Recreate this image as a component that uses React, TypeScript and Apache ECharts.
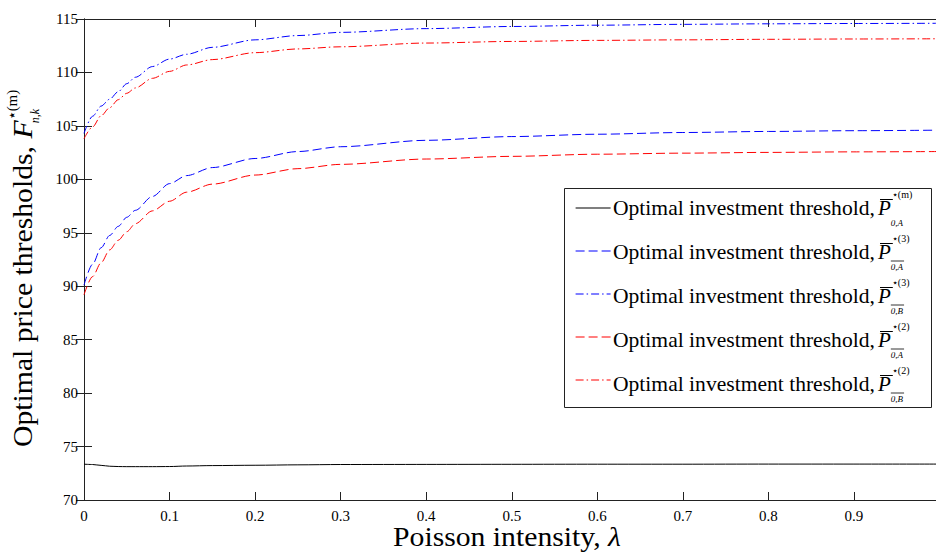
import React, { useEffect, useRef } from "react";
import * as echarts from "echarts";

const lambda = [0, 0.01, 0.02, 0.03, 0.04, 0.05, 0.06, 0.08, 0.1, 0.12, 0.15, 0.2, 0.25, 0.3, 0.4, 0.5, 0.6, 0.7, 0.8, 0.9, 1.0];
const invM = [73.35, 73.32, 73.24, 73.16, 73.13, 73.12, 73.12, 73.12, 73.13, 73.18, 73.22, 73.25, 73.29, 73.32, 73.33, 73.34, 73.35, 73.35, 73.36, 73.36, 73.36];
const blueA3 = [90.1, 92.05, 93.6, 94.75, 95.6, 96.45, 97.1, 98.4, 99.6, 100.35, 101.1, 101.95, 102.6, 103.05, 103.65, 104.0, 104.22, 104.38, 104.48, 104.55, 104.6];
const blueB3 = [104.3, 105.9, 106.85, 107.5, 108.2, 108.95, 109.55, 110.55, 111.25, 111.7, 112.35, 113.05, 113.45, 113.75, 114.1, 114.3, 114.42, 114.5, 114.55, 114.58, 114.6];
const redA2 = [89.2, 90.9, 92.2, 93.4, 94.3, 95.1, 95.85, 97.05, 97.95, 98.8, 99.55, 100.4, 101.0, 101.4, 101.9, 102.15, 102.35, 102.45, 102.52, 102.57, 102.6];
const redB2 = [103.8, 104.9, 105.95, 106.7, 107.45, 108.05, 108.55, 109.45, 110.1, 110.7, 111.2, 111.85, 112.2, 112.4, 112.75, 112.9, 113.0, 113.05, 113.1, 113.13, 113.15];

const seriesNames = ["P0A_m", "P0A_3", "P0B_3", "P0A_2", "P0B_2"];
const legendMain = "Optimal investment threshold,";
const legendSup = ["⋆(m)", "⋆(3)", "⋆(3)", "⋆(2)", "⋆(2)"];
const legendSub = ["0,A", "0,A", "0,B", "0,A", "0,B"];
const legendSubBar = [false, true, true, true, true];

const xTitle = "Poisson intensity, ";
const xTitleVar = "λ";
const yTitle = "Optimal price thresholds, ";
const yTitleVar = "F";
const yTitleSup = "⋆(m)";
const yTitleSub = "n,k";

const FF = '"Liberation Serif", "DejaVu Serif", serif';

const seriesDefs = [
  { data: invM, color: "#000000", dash: "solid" as any },
  { data: blueA3, color: "#0000ff", dash: [9, 4] },
  { data: blueB3, color: "#0000ff", dash: [8, 3, 1.5, 3] },
  { data: redA2, color: "#ff0000", dash: [9, 4] },
  { data: redB2, color: "#ff0000", dash: [8, 3, 1.5, 3] },
];

let measureCtx: CanvasRenderingContext2D | null = null;
function tw(text: string, font: string) {
  if (!measureCtx) measureCtx = document.createElement("canvas").getContext("2d");
  measureCtx!.font = font;
  return measureCtx!.measureText(text).width;
}

function txt(text: string, x: number, baseline: number, size: number, italic = false, sx = 1) {
  const font = `${italic ? "italic " : ""}${size}px ${FF}`;
  return {
    type: "text",
    x,
    y: baseline - 0.34 * size,
    scaleX: sx,
    z: 100,
    style: {
      text,
      font,
      fill: "#000",
      align: "left",
      verticalAlign: "middle",
      textAlign: "left",
      textVerticalAlign: "middle",
    },
  };
}

function hline(x1: number, x2: number, y: number, w = 1) {
  return {
    type: "line",
    z: 100,
    shape: { x1, y1: y, x2, y2: y },
    style: { stroke: "#000", lineWidth: w },
  };
}

export default function App() {
  const ref = useRef<HTMLDivElement>(null);
  useEffect(() => {
    if (!ref.current) return;
    const chart = echarts.init(ref.current, undefined, { renderer: "svg" });

    const graphics: any[] = [];
    graphics.push({
      type: "rect",
      z: 10,
      shape: { x: 564.5, y: 188.5, width: 367, height: 219 },
      style: { fill: "#fff", stroke: "#222", lineWidth: 1 },
    });
    const LS = 21;
    const mainW = tw(legendMain, `${LS}px ${FF}`);
    const lsx = 262 / mainW;
    const pW = tw("P", `italic ${LS}px ${FF}`);
    seriesDefs.forEach((s, i) => {
      const base = 215 + 44 * i;
      graphics.push(txt(legendMain, 613, base, LS, false, lsx));
      const xP = 613 + 262 + 3;
      graphics.push(txt("P", xP, base, LS, true));
      graphics.push(hline(xP + 2, xP + pW + 2, base - 15.5, 1));
      graphics.push(txt(legendSup[i], xP + pW + 1, base - 17, 10));
      const subW = tw(legendSub[i], `italic 9px ${FF}`);
      graphics.push(txt(legendSub[i], xP + pW, base + 11, 9, true));
      if (legendSubBar[i]) graphics.push(hline(xP + pW, xP + pW + subW + 1, base + 2, 0.8));
    });

    const TS = 27;
    const tsx = 1.1;
    const xtW = tw(xTitle, `${TS}px ${FF}`) * tsx;
    const xvW = tw(xTitleVar, `italic ${TS}px ${FF}`) * tsx;
    const xStart = 507 - (xtW + xvW) / 2;
    graphics.push(txt(xTitle, xStart, 546, TS, false, tsx));
    graphics.push(txt(xTitleVar, xStart + xtW, 546, TS, true, tsx));

    const ytW = tw(yTitle, `${TS}px ${FF}`) * tsx;
    const fW = tw(yTitleVar, `italic ${TS}px ${FF}`) * tsx;
    graphics.push({
      type: "group",
      x: 32,
      y: 447,
      rotation: Math.PI / 2,
      z: 100,
      children: [
        txt(yTitle, 0, 0, TS, false, tsx),
        txt(yTitleVar, ytW, 0, TS, true, tsx),
        txt(yTitleSup, ytW + fW, -15, 15),
        txt(yTitleSub, ytW + fW - 3, 7, 12, true),
      ],
    });

    const axisCommon = {
      type: "value",
      axisLine: { show: true, lineStyle: { color: "#222", width: 1 } },
      axisTick: { show: true, inside: true, length: 8, lineStyle: { color: "#222", width: 1 } },
      splitLine: { show: false },
    };

    chart.setOption({
      animation: false,
      backgroundColor: "#fff",
      grid: { left: 84, top: 19, width: 855.5, height: 481, containLabel: false },
      legend: {
        show: true,
        orient: "vertical",
        left: 575,
        top: 203,
        padding: 0,
        itemWidth: 35,
        itemHeight: 10,
        itemGap: 34,
        z: 20,
        selectedMode: false,
        data: seriesNames,
        itemStyle: { opacity: 0 },
        lineStyle: { width: 1.2 },
        formatter: () => "",
        textStyle: { fontSize: 1 },
      },
      xAxis: [
        {
          ...axisCommon,
          min: 0,
          max: 1,
          interval: 0.1,
          position: "bottom",
          axisLabel: { show: true, margin: 8, color: "#000", fontSize: 15, fontFamily: FF, showMaxLabel: false },
        },
        {
          ...axisCommon,
          min: 0,
          max: 1,
          interval: 0.1,
          position: "top",
          axisLabel: { show: false },
        },
      ],
      yAxis: [
        {
          ...axisCommon,
          min: 70,
          max: 115,
          interval: 5,
          position: "left",
          axisLabel: { show: true, margin: 6, color: "#000", fontSize: 15, fontFamily: FF },
        },
        {
          ...axisCommon,
          min: 70,
          max: 115,
          interval: 5,
          position: "right",
          axisLabel: { show: false },
        },
      ],
      series: seriesDefs.map((s, k) => ({
        name: seriesNames[k],
        type: "line",
        xAxisIndex: 0,
        yAxisIndex: 0,
        data: lambda.map((x, i) => [x, s.data[i]]),
        showSymbol: false,
        symbol: "none",
        smooth: 0.3,
        smoothMonotone: "x",
        color: s.color,
        itemStyle: { color: s.color },
        lineStyle: { color: s.color, width: 1, type: s.dash },
        z: 2,
      })),
      graphic: graphics,
    });
    return () => chart.dispose();
  }, []);

  return (
    <div style={{ position: "fixed", left: 0, top: 0, width: 936, height: 552, overflow: "hidden", background: "#fff" }}>
      <div ref={ref} style={{ width: 960, height: 552 }} />
    </div>
  );
}
